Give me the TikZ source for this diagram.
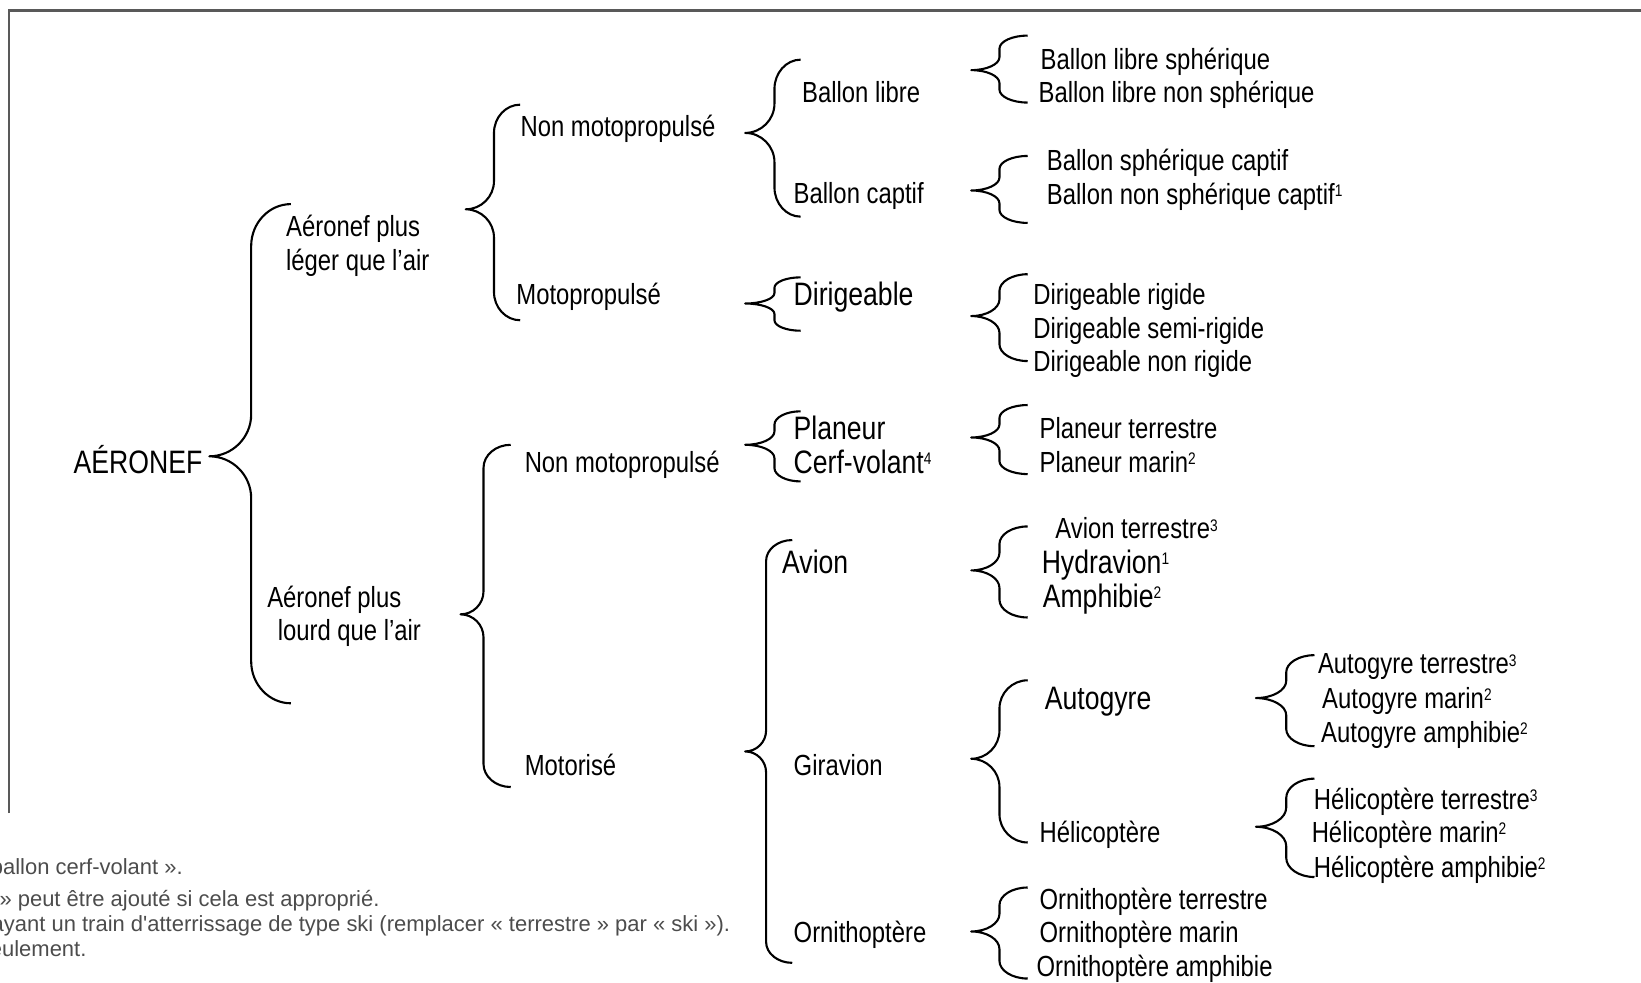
\documentclass[tikz,border=0pt]{standalone}
\usepackage{fontspec}
\usepackage{tikz}
\usetikzlibrary{positioning}

\newfontfamily\narrowsans{Liberation Sans}[FakeStretch=0.82]
\newfontfamily\notesans{Liberation Sans}
\newcommand{\itemfont}{\narrowsans\fontsize{13.9}{16}\selectfont}
\newcommand{\bigfont}{\narrowsans\fontsize{15.5}{18}\selectfont}
\newcommand{\notefont}{\notesans\fontsize{10.5}{12}\selectfont}
\newcommand{\expo}[1]{\raisebox{0.5ex}{\fontsize{8}{8}\selectfont #1}}

% brace: tip x, tip y, top y, bottom y, depth, arm
\newcommand{\accolade}[6]{%
  \pgfmathsetmacro{\acvx}{#1+#5}%
  \pgfmathsetmacro{\acex}{\acvx+#6}%
  \pgfmathsetmacro{\acr}{min(#5,(#2-#3)/2.5,(#4-#2)/2.5)}%
  \draw[accolade] (\acex,#3)
    .. controls ({\acex-0.55*#6},#3) and (\acvx,{#3+0.45*\acr}) .. (\acvx,{#3+\acr})
    -- (\acvx,{#2-\acr})
    .. controls (\acvx,{#2-0.45*\acr}) and ({#1+0.55*#5},#2) .. (#1,#2)
    .. controls ({#1+0.55*#5},#2) and (\acvx,{#2+0.45*\acr}) .. (\acvx,{#2+\acr})
    -- (\acvx,{#4-\acr})
    .. controls (\acvx,{#4-0.45*\acr}) and ({\acex-0.55*#6},#4) .. (\acex,#4);
}

\begin{document}
\begin{tikzpicture}[
    x=0.5pt, y=-0.5pt,
    node distance=16pt,
    item/.style={anchor=base west, inner sep=0pt, font=\itemfont},
    big/.style={item, font=\bigfont},
    note/.style={anchor=base east, inner sep=0pt, font=\notefont, text=black!70},
    under/.style={below=of #1.base west, anchor=base west},
    accolade/.style={line width=1pt, line join=round},
    frame/.style={line width=1pt, draw=black!65}
]
\useasboundingbox (0,0) rectangle (1568,939);

% frame
\draw [frame] (9,777) -- (9,10) -- (1568,10);

% Nodes
\node [big] (aeronef) at (70,452) {AÉRONEF};

\node [item] (leger1) at (273,226) {Aéronef plus};
\node [item, under=leger1] (leger2) {léger que l’air};
\node [item] (lourd1) at (255,580) {Aéronef plus};
\node [item, under=lourd1, xshift=5pt] (lourd2) {lourd que l’air};

\node [item] (nmpA) at (497,130) {Non motopropulsé};
\node [item] (mpA) at (493,291) {Motopropulsé};
\node [item] (nmpB) at (501,451) {Non motopropulsé};
\node [item] (motor) at (501,741) {Motorisé};

\node [item] (blibre) at (766,98) {Ballon libre};
\node [item] (bcaptif) at (758,194) {Ballon captif};
\node [big] (dirig) at (758,292) {Dirigeable};
\node [big] (planeur) at (758,420) {Planeur};
\node [big, under=planeur] (cerf) {Cerf-volant\expo{4}};
\node [big] (avion) at (747,548) {Avion};
\node [item] (girav) at (758,741) {Giravion};
\node [item] (ornith) at (758,901) {Ornithoptère};

\node [item] (bl1) at (994,66) {Ballon libre sphérique};
\node [item, under=bl1, xshift=-1pt] (bl2) {Ballon libre non sphérique};
\node [item] (bc1) at (1000,163) {Ballon sphérique captif};
\node [item, under=bc1] (bc2) {Ballon non sphérique captif\expo{1}};
\node [item] (d1) at (987,291) {Dirigeable rigide};
\node [item, under=d1] (d2) {Dirigeable semi-rigide};
\node [item, under=d2] (d3) {Dirigeable non rigide};
\node [item] (p1) at (993,419) {Planeur terrestre};
\node [item, under=p1] (p2) {Planeur marin\expo{2}};
\node [item] (a1) at (1008,515) {Avion terrestre\expo{3}};
\node [big] (a2) at (995,548) {Hydravion\expo{1}};
\node [big, under=a2, xshift=0.5pt] (a3) {Amphibie\expo{2}};
\node [big] (autog) at (998,678) {Autogyre};
\node [item] (helic) at (993,805) {Hélicoptère};
\node [item] (o1) at (993,869) {Ornithoptère terrestre};
\node [item, under=o1] (o2) {Ornithoptère marin};
\node [item, under=o2, xshift=-1.5pt] (o3) {Ornithoptère amphibie};

\node [item] (ag1) at (1259,644) {Autogyre terrestre\expo{3}};
\node [item] (ag2) at (1263,677) {Autogyre marin\expo{2}};
\node [item] (ag3) at (1262,709) {Autogyre amphibie\expo{2}};
\node [item] (h1) at (1255,773) {Hélicoptère terrestre\expo{3}};
\node [item] (h2) at (1253,805) {Hélicoptère marin\expo{2}};
\node [item] (h3) at (1255,838) {Hélicoptère amphibie\expo{2}};

% footnotes, cut at the left edge
\node [note] (n1) at (175,836) {ballon cerf-volant ».};
\node [note] (n2) at (363,866) {» peut être ajouté si cela est approprié.};
\node [note] (n3) at (698,890) {ayant un train d'atterrissage de type ski (remplacer « terrestre » par « ski »).};
\node [note] (n4) at (83,914) {eulement.};

% Braces
\accolade{200}{436}{195}{672}{40}{38}
\accolade{445}{200}{100}{306}{27}{25}
\accolade{440}{587}{425}{752}{22}{26}
\accolade{712}{127}{57}{207}{28}{25}
\accolade{712}{290}{265}{316}{28}{25}
\accolade{712}{425}{393}{460}{28}{25}
\accolade{712}{718}{516}{920}{20}{25}
\accolade{928}{67}{34}{98}{27}{27}
\accolade{928}{182}{149}{213}{27}{27}
\accolade{928}{302}{262}{345}{27}{27}
\accolade{928}{418}{387}{453}{27}{27}
\accolade{928}{545}{503}{590}{27}{27}
\accolade{928}{725}{650}{805}{27}{27}
\accolade{928}{890}{848}{935}{27}{27}
\accolade{1200}{667}{626}{713}{29}{27}
\accolade{1200}{790}{744}{838}{29}{27}

\end{tikzpicture}
\end{document}
